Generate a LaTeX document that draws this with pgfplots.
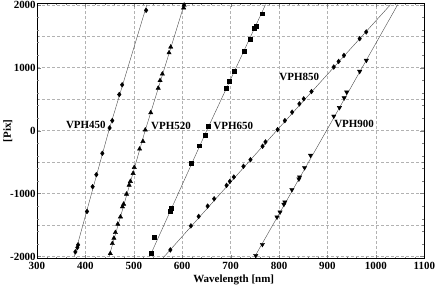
\documentclass[border=0pt]{standalone}
\usepackage{fontspec}
\setmainfont{Liberation Serif}
\usepackage{pgfplots}
\pgfplotsset{compat=1.18}
\begin{document}
\begin{tikzpicture}[font=\fontsize{11}{12}\selectfont\bfseries]
\begin{axis}[
 scale only axis, width=388pt, height=256pt,
 xmin=300, xmax=1100, ymin=-2035, ymax=2025,
 xtick={300,400,...,1100},
 ytick={-2000,-1000,0,1000,2000},
 minor x tick num=4,
 minor ytick={-1500,-500,500,1500},
 extra y ticks={-1800,-1600,-1400,-1200,-800,-600,-400,-200,200,400,600,800,1200,1400,1600,1800},
 extra y tick labels={},
 extra y tick style={grid=none, major tick length=2pt},
 major tick length=4pt, minor tick length=2pt,
 tick align=inside,
 grid=both,
 major grid style={gray!60, densely dashed, line width=0.4pt},
 minor grid style={gray!60, densely dashed, line width=0.4pt},
 minor x grid style={draw=none},
 /pgf/number format/assume math mode=true,
 /pgf/number format/set thousands separator={},
 ticklabel style={font=\fontsize{11}{12}\selectfont\bfseries},
 xticklabel style={inner sep=1pt, yshift=-2.5pt},
 yticklabel style={inner sep=1pt},
 xlabel={Wavelength [nm]},
 ylabel={[Pix]},
 xlabel style={at={(axis description cs:0.508,0)}, anchor=north, yshift=-13pt},
 ylabel style={at={(axis description cs:-0.075,0.5)}, anchor=center},
 axis line style={line width=0.6pt},
 every axis plot/.append style={line width=0.4pt},
 clip=true,
]
% fitted lines
\addplot[black!70, no marks] coordinates {(377,-2000) (448.5,0) (527,2000)};
\addplot[black!70, no marks] coordinates {(449,-2000) (523.5,0) (604,2000)};
\addplot[black!70, no marks] coordinates {(533,-2000) (650.5,0) (772,2000)};
\addplot[black!70, no marks] coordinates {(563,-2000) (795,0) (1030,2000)};
\addplot[black!70, no marks] coordinates {(750,-2000) (898,0) (1045,2000)};
% VPH450
\addplot[only marks, mark=diamond*, mark size=2.4pt, black] coordinates {
(379.4,-1926) (383.5,-1857) (385,-1814) (403.4,-1284) (415,-891) (422.7,-700)
(435,-361) (450,42) (455.6,159) (470,573) (476,728) (525.5,1911)};
% VPH520
\addplot[only marks, mark=triangle*, mark size=2.5pt, black] coordinates {
(451.5,-1952) (455.7,-1793) (459,-1708) (462,-1618) (467,-1485) (472.5,-1369)
(476.6,-1210) (479,-1167) (485,-1008) (490.4,-865) (493,-806) (498.6,-679)
(501,-584) (512,-292) (518.9,-170) (523.7,11) (535,285) (550.5,675) (554.3,796)
(559,900) (572.8,1237) (576.3,1328) (603,1950) (604,1995)};
% VPH650
\addplot[only marks, mark=square*, mark size=1.9pt, black] coordinates {
(535.4,-1952) (542.3,-1687) (575.9,-1284) (577.3,-1231) (619,-520) (635,-239)
(646.7,-69) (654.3,64) (691.6,680) (697,780) (707,946) (727.8,1264) (741,1449)
(748,1630) (752,1660) (765.6,1858)};
% VPH850
\addplot[only marks, mark=diamond*, mark size=2.4pt, black] coordinates {
(575.5,-1895) (618,-1513) (634,-1363) (652.5,-1199) (666,-1083) (691.6,-870)
(698.4,-806) (706.6,-737) (726.5,-567) (741,-462) (766,-248) (772,-180) (797,16)
(812,159) (827,293) (842,425) (851,505) (867,621) (913,1010) (923,1099) (934,1194)
(966.5,1460) (980,1567)};
% VPH900
\addplot[only marks, mark=triangle*, mark options={rotate=180}, mark size=2.5pt, black] coordinates {
(751.9,-1984) (765.6,-1809) (795.7,-1374) (802,-1295) (810,-1172) (812,-1135)
(826.5,-939) (841,-769) (842.4,-737) (852.7,-589) (865,-392) (913,229) (924.7,365)
(934.5,520) (939.7,611) (966.5,940) (980.2,1115)};
% labels
\node[font=\fontsize{11}{12}\selectfont\bfseries] at (axis cs:401,86) {VPH450};
\node[font=\fontsize{11}{12}\selectfont\bfseries] at (axis cs:577,78) {VPH520};
\node[font=\fontsize{11}{12}\selectfont\bfseries] at (axis cs:705.5,78) {VPH650};
\node[font=\fontsize{11}{12}\selectfont\bfseries] at (axis cs:841.7,855) {VPH850};
\node[font=\fontsize{11}{12}\selectfont\bfseries] at (axis cs:955,100) {VPH900};
\end{axis}
\end{tikzpicture}
\end{document}
